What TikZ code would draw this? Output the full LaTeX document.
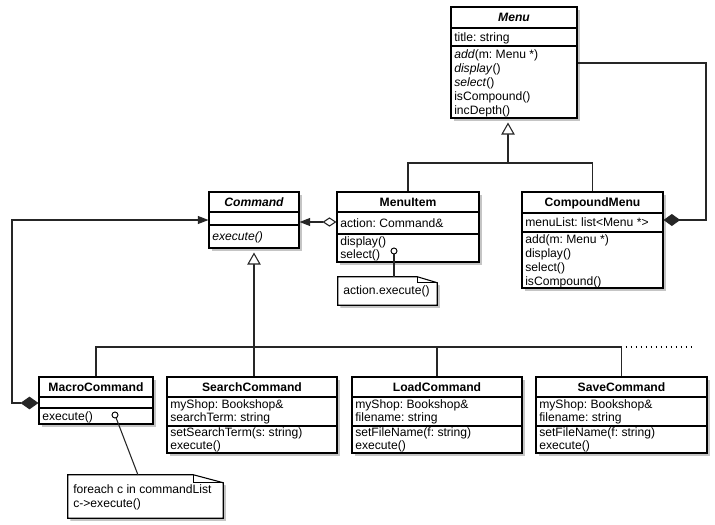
\documentclass[tikz,border=0pt]{standalone}
\usepackage{fontspec}
\setmainfont{Liberation Sans}
\usetikzlibrary{arrows.meta,shadows,fit}
\begin{document}
\frenchspacing
\begin{tikzpicture}[x=0.75pt,y=-0.75pt,
  font=\fontsize{9.1}{10}\selectfont,
  box/.style={draw=black, line width=0.8pt, fill=white, inner sep=0pt,
    drop shadow={shadow xshift=2pt, shadow yshift=-2pt, opacity=0.45}},
  notebox/.style={inner sep=0pt},
  row/.style={anchor=base west, inner sep=0pt},
  ttl/.style={anchor=base, inner sep=0pt, font=\fontsize{9.1}{10}\selectfont\bfseries},
  sep/.style={line width=0.8pt},
  conn/.style={line width=0.8pt, draw=black!85},
  inh/.style={conn, -{Triangle[open, length=9pt, width=10pt, fill=white]}, shorten >=3pt},
  comp/.style={conn, -{Diamond[length=12.5pt, width=9pt]}},
  lolly/.style={circle, draw=black, line width=0.7pt, fill=white, minimum size=4.5pt, inner sep=0pt},
]
\useasboundingbox[fill=white] (0,0) rectangle (715,525);

% ---------------- Menu ----------------
\node[box, fit={(451,7) (577,118)}] (menu) {};
\draw[sep] (menu.west |- 0,28) -- (menu.east |- 0,28);
\draw[sep] (menu.west |- 0,46) -- (menu.east |- 0,46);
\node[ttl] (menu-t) at (menu.north |- 0,21.5) {\itshape Menu};
\node[row] (menu-a1) at (454,41) {title: string};
\node[row] (menu-o1) at (454,58) {\textit{add}(m: Menu *)};
\node[row] (menu-o2) at (454,72) {\textit{display}()};
\node[row] (menu-o3) at (454,86) {\textit{select}()};
\node[row] (menu-o4) at (454,100) {isCompound()};
\node[row] (menu-o5) at (454,114) {incDepth()};

% ---------------- Command ----------------
\node[box, fit={(209,192) (299,248)}] (command) {};
\draw[sep] (command.west |- 0,212) -- (command.east |- 0,212);
\draw[sep] (command.west |- 0,225) -- (command.east |- 0,225);
\node[ttl] (command-t) at (command.north |- 0,206) {\itshape Command};
\node[row] (command-o1) at (212,240) {\itshape execute()};

% ---------------- MenuItem ----------------
\node[box, fit={(337,192) (479,262)}] (menuitem) {};
\draw[sep] (menuitem.west |- 0,212) -- (menuitem.east |- 0,212);
\draw[sep] (menuitem.west |- 0,234) -- (menuitem.east |- 0,234);
\node[ttl] (menuitem-t) at (menuitem.north |- 0,206) {MenuItem};
\node[row] (menuitem-a1) at (340,227) {action: Command\&};
\node[row] (menuitem-o1) at (340,245) {display()};
\node[row] (menuitem-o2) at (340,258) {select()};

% ---------------- CompoundMenu ----------------
\node[box, fit={(522,192) (663,288)}] (compound) {};
\draw[sep] (compound.west |- 0,213) -- (compound.east |- 0,213);
\draw[sep] (compound.west |- 0,232) -- (compound.east |- 0,232);
\node[ttl] (compound-t) at (compound.north |- 0,206) {CompoundMenu};
\node[row] (compound-a1) at (525,226) {menuList: list<Menu *>};
\node[row] (compound-o1) at (525,243) {add(m: Menu *)};
\node[row] (compound-o2) at (525,257) {display()};
\node[row] (compound-o3) at (525,271) {select()};
\node[row] (compound-o4) at (525,285) {isCompound()};

% ---------------- MacroCommand ----------------
\node[box, fit={(39,377) (153,424)}] (macro) {};
\draw[sep] (macro.west |- 0,397) -- (macro.east |- 0,397);
\draw[sep] (macro.west |- 0,408) -- (macro.east |- 0,408);
\node[ttl] (macro-t) at (macro.north |- 0,391) {MacroCommand};
\node[row] (macro-o1) at (42,420) {execute()};

% ---------------- SearchCommand ----------------
\node[box, fit={(167,377) (337,453)}] (search) {};
\draw[sep] (search.west |- 0,397) -- (search.east |- 0,397);
\draw[sep] (search.west |- 0,426) -- (search.east |- 0,426);
\node[ttl] (search-t) at (search.north |- 0,391) {SearchCommand};
\node[row] (search-a1) at (170,408) {myShop: Bookshop\&};
\node[row] (search-a2) at (170,421) {searchTerm: string};
\node[row] (search-o1) at (170,436) {setSearchTerm(s: string)};
\node[row] (search-o2) at (170,449) {execute()};

% ---------------- LoadCommand ----------------
\node[box, fit={(352,377) (522,453)}] (load) {};
\draw[sep] (load.west |- 0,397) -- (load.east |- 0,397);
\draw[sep] (load.west |- 0,426) -- (load.east |- 0,426);
\node[ttl] (load-t) at (load.north |- 0,391) {LoadCommand};
\node[row] (load-a1) at (355,408) {myShop: Bookshop\&};
\node[row] (load-a2) at (355,421) {filename: string};
\node[row] (load-o1) at (355,436) {setFileName(f: string)};
\node[row] (load-o2) at (355,449) {execute()};

% ---------------- SaveCommand ----------------
\node[box, fit={(536,377) (707,453)}] (save) {};
\draw[sep] (save.west |- 0,397) -- (save.east |- 0,397);
\draw[sep] (save.west |- 0,426) -- (save.east |- 0,426);
\node[ttl] (save-t) at (save.north |- 0,391) {SaveCommand};
\node[row] (save-a1) at (539,408) {myShop: Bookshop\&};
\node[row] (save-a2) at (539,421) {filename: string};
\node[row] (save-o1) at (539,436) {setFileName(f: string)};
\node[row] (save-o2) at (539,449) {execute()};

% ---------------- Notes ----------------
\node[notebox, fit={(338,277) (437,305)}] (note1) {};
\draw[line width=0.8pt, fill=white, drop shadow={shadow xshift=2pt, shadow yshift=-2pt, opacity=0.45}]
  (note1.north west) -- ([xshift=-15pt]note1.north east) -- ([yshift=-4.5pt]note1.north east)
  -- (note1.south east) -- (note1.south west) -- cycle;
\draw[line width=0.8pt] ([xshift=-15pt]note1.north east) |- ([yshift=-4.5pt]note1.north east);
\node[row] (note1-t) at (343,294) {action.execute()};

\node[notebox, fit={(68,475) (223,518)}] (note2) {};
\draw[line width=0.8pt, fill=white, drop shadow={shadow xshift=2pt, shadow yshift=-2pt, opacity=0.45}]
  (note2.north west) -- ([xshift=-22.5pt]note2.north east) -- ([yshift=-6pt]note2.north east)
  -- (note2.south east) -- (note2.south west) -- cycle;
\draw[line width=0.8pt] ([xshift=-22.5pt]note2.north east) |- ([yshift=-6pt]note2.north east);
\node[row] (note2-t1) at (73,493) {foreach c in commandList};
\node[row] (note2-t2) at (73,507) {c->execute()};

% ---------------- Lollipops ----------------
\node[lolly] (lp1) at (394,251) {};
\draw[conn] (lp1) -- (lp1 |- note1.north);
\node[lolly] (lp2) at (115,415) {};
\coordinate (n2a) at (138,475);
\draw[conn] (lp2) -- (n2a);

% ---------------- Menu hierarchy ----------------
\coordinate (mj) at (508,163);
\draw[conn] (menuitem.north) |- (mj) -| (compound.north);
\draw[inh] (mj) -- (mj |- menu.south);

% Menu <>-- CompoundMenu composition
\coordinate (cr) at (706,220);
\draw[comp] (menu.east |- 0,63) -| (cr) -- (compound.east |- cr);

% MenuItem <>--> Command
\draw[conn, {Diamond[open, length=10.5pt, width=7pt, fill=white]}-{Triangle[length=8pt, width=6pt]}]
  (menuitem.west |- 0,222) -- (command.east |- 0,222);

% MacroCommand <>--> Command
\coordinate (ml) at (12,220);
\draw[conn, {Diamond[length=13.5pt, width=9.5pt]}-{Triangle[length=8pt, width=6pt]}]
  (macro.west |- 0,403) -| (ml) -- (command.west |- ml);

% ---------------- Command hierarchy ----------------
\draw[inh] (command.south |- search.north) -- (command.south);
\coordinate (bus) at (0,347);
\draw[conn] (macro.north) |- (bus -| save.north) -- (save.north);
\draw[conn] (load.north) -- (load.north |- bus);
\coordinate (dotend) at (692,347);
\draw[line width=0.8pt, dash pattern=on 0.75pt off 3pt] ([xshift=3pt]bus -| save.north) -- (dotend);
\end{tikzpicture}
\end{document}
